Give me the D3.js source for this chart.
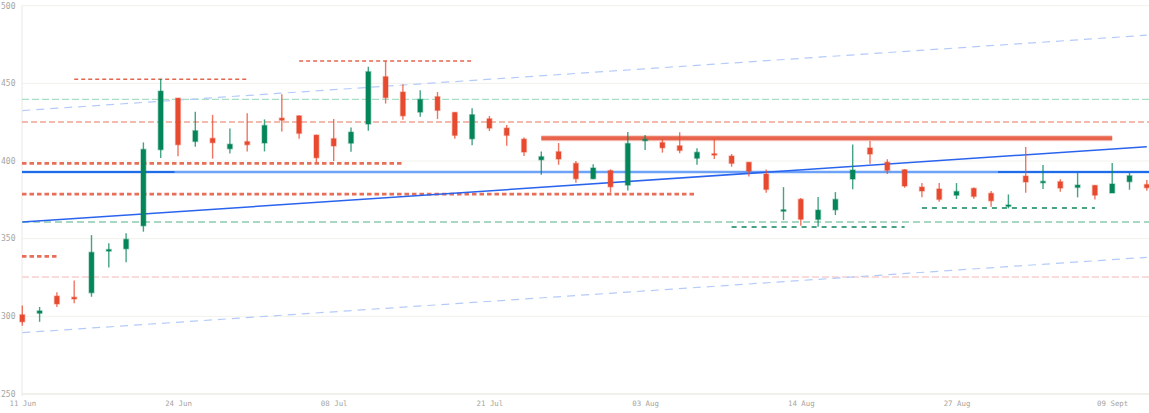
<!DOCTYPE html>
<html><head><meta charset="utf-8">
<script src="https://cdn.jsdelivr.net/npm/d3@7/dist/d3.min.js"></script>
<style>html,body{margin:0;padding:0;background:#fff;}svg{display:block;}</style>
</head><body><svg id="c" width="1149" height="413"></svg>
<script>
// ---- data ----
const opens  = [301,302,313,312.3,315.2,342,343.5,358.3,407.3,440.5,412.6,414.6,407.9,412.5,411.6,427.6,429.1,416.7,414.4,411.5,423.8,454.3,444.4,431.5,441.4,431.3,414.3,427.2,421.2,414.1,400.8,406,398.5,388.6,393.8,384.5,413.1,411.9,409.8,401.8,404.7,403.2,399.2,391.6,368,375.4,362.4,368.6,388.4,408.4,399.2,394.4,383.2,382,378,382.4,379.2,370.8,390.3,386,386.7,383,384.3,379.4,386.7,384.9];
const closes = [296.5,303.5,308,311.2,341.2,343,349.6,407.5,445,410.5,419.5,411.8,410.8,410.5,422.9,426.3,417.8,402.1,409.7,418.6,457.5,440.8,429.1,439.7,432.6,416.5,429.8,421.2,416.5,405.8,402.8,401.3,388.6,395.5,383.4,411.3,414,408.5,406.8,405.6,403.9,398.5,393.5,381.7,368.6,362.5,368.4,375.3,394.2,404.5,394,383.9,380.7,375.3,380.4,377.2,374.4,371.7,386.5,386.9,382.6,384.5,378,385.2,390.5,382.8];
const highs  = [307,306,315.5,323,352.3,347,353.5,412,452.8,440.5,431.8,429.7,421,430.8,426.8,443,429.5,417,427,421.6,460.7,464.4,449.5,445.5,444.4,431.5,433.9,429,423.2,415.2,406.2,411.6,400,398,394.6,418.7,416.7,414,418.6,408.2,414,404.5,399.3,394.6,383.2,376.2,376.8,380,410.7,412.9,401.1,394.8,385.8,385.8,385.8,383,380.7,378.5,409,397.4,388.2,392.3,384.5,398.7,392.5,387.7];
const lows   = [294,296.5,306,308.4,312.6,331.5,334.8,354.5,402,403,409.2,401.5,404.9,406.2,406.2,419,414.3,399,400,406,419.5,437,426.6,428.5,427,414.3,410.1,419.3,409.8,403.2,391.2,397.6,386,388.2,379.6,381,407.1,405.4,405,397.6,401.3,396.3,390,379.6,362,358.4,357.7,365.2,381.8,398.3,391.6,382.8,376.6,373.8,375.5,375.7,370.6,369.5,379.6,382,380.2,376.6,375.3,379.4,381.5,380.8];
const tickIndex  = [0,9,18,27,36,45,54,63];
const tickLabels = ["11 Jun","24 Jun","08 Jul","21 Jul","03 Aug","14 Aug","27 Aug","09 Sept"];
const yTicks = [250,300,350,400,450,500];

// horizontal levels: [value, fromIndex, toIndex, style]
const levelValues = [452.6, 464.4, 439.7, 425.1, 398.5, 378.7, 360.7, 338.6, 325.3, 414.6, 357.5, 369.7, 392.9, 392.9, 392.9];
const levelFrom   = [3, 16, 0, 0, 0, 0, 0, 0, 0, 30, 41, 52, 0, 0, 56.4];
const levelTo     = [13, 26, 66, 66, 22, 39, 66, 2, 66, 63, 51, 62, 66, 8.8, 66];
const levelStyle  = ["redThin","redThin","greenLight","redLight","redThick","redThick","greenMid","redThick","pink","redSolid","greenDark","greenDark","blueLight","blueDark","blueDark"];
// trend lines: [startValue at index 0, endValue at index 65]
const trendStart = [432.5, 289.5, 360.7];
const trendEnd   = [481, 338, 409.2];
const trendStyle = ["blueDash","blueDash","blueSolid"];

const RED = "#e84a2f", GREEN = "#05855a";
const styles = {
  redThin:   {stroke:"#e4553c", w:1.4, dash:"4,3", op:0.9},
  redThick:  {stroke:"#e4553c", w:2.6, dash:"4.5,3", op:0.85},
  redLight:  {stroke:"#f0a593", w:1.5, dash:"6,3", op:1},
  pink:      {stroke:"#f9d0d0", w:1.5, dash:"7,3", op:1},
  greenLight:{stroke:"#a6dec6", w:1.3, dash:"7,3", op:1},
  greenMid:  {stroke:"#8ccab0", w:1.6, dash:"7,4", op:1},
  greenDark: {stroke:"#2a946a", w:2, dash:"5,5", op:0.85},
  redSolid:  {stroke:"#e8634c", w:4, dash:null, op:1},
  blueLight: {stroke:"#6ea2f6", w:2.4, dash:null, op:1},
  blueDark:  {stroke:"#1f6be8", w:2, dash:null, op:1},
  blueDash:  {stroke:"#b4cbf9", w:1.2, dash:"8,6", op:1},
  blueSolid: {stroke:"#2a64ee", w:1.5, dash:null, op:1}
};

// ---- scales ----
const W = 1149, H = 413;
const n = opens.length;
const x = d3.scaleLinear().domain([0, n-1]).range([22.3, 1146.8]);
const y = d3.scaleLinear().domain([250, 500]).range([394, 5.7]);
const svg = d3.select("#c");

// gridlines
svg.append("g").selectAll("line").data(yTicks).join("line")
  .attr("x1", 22).attr("x2", W).attr("y1", d=>y(d)).attr("y2", d=>y(d))
  .attr("stroke", "#f1f1ec").attr("stroke-width", 1);
// axes lines
svg.append("line").attr("x1",22).attr("x2",22).attr("y1",y(500)).attr("y2",396).attr("stroke","#e9e8e1");
svg.append("line").attr("x1",22).attr("x2",W).attr("y1",y(250)).attr("y2",y(250)).attr("stroke","#e9e8e1");

// y labels
svg.append("g").selectAll("text").data(yTicks).join("text")
  .attr("x", 1).attr("y", d=>y(d)).attr("dy","0.35em")
  .attr("font-family","DejaVu Sans Mono, monospace").attr("font-size","8px")
  .attr("fill","#a5a5a0").text(d=>d);
// x labels via axis
const xAxis = d3.axisBottom(x).tickValues(tickIndex).tickFormat((d,i)=>tickLabels[i]).tickSize(0).tickPadding(0);
const gx = svg.append("g").attr("transform","translate(0,402)").call(xAxis);
gx.select(".domain").remove();
gx.selectAll("text").attr("font-family","DejaVu Sans Mono, monospace").attr("font-size","7.4px").attr("fill","#a5a5a0").attr("dy","0.6em");

// levels
const lv = svg.append("g");
levelValues.forEach((v,i)=>{
  const s = styles[levelStyle[i]];
  const x1 = x(levelFrom[i]) - (levelFrom[i]===0 ? 0.3 : 0);
  const x2 = levelTo[i] >= n ? W : x(levelTo[i]);
  if (levelStyle[i]==="redSolid") {
    lv.append("line").attr("x1",x1).attr("x2",x2).attr("y1",y(v)).attr("y2",y(v))
      .attr("stroke","#f3b1a5").attr("stroke-width",6).attr("opacity",0.6);
  }
  lv.append("line").attr("x1",x1).attr("x2",x2).attr("y1",y(v)).attr("y2",y(v))
    .attr("stroke",s.stroke).attr("stroke-width",s.w).attr("stroke-dasharray",s.dash)
    .attr("opacity",s.op);
});
// trend lines
trendStart.forEach((v,i)=>{
  const s = styles[trendStyle[i]];
  lv.append("line").attr("x1",x(0)).attr("x2",x(n-1)).attr("y1",y(v)).attr("y2",y(trendEnd[i]))
    .attr("stroke",s.stroke).attr("stroke-width",s.w).attr("stroke-dasharray",s.dash).attr("opacity",s.op);
});

// candles
const idx = d3.range(n);
const cg = svg.append("g");
const col = i => closes[i] >= opens[i] ? GREEN : RED;
cg.selectAll("line.wick").data(idx).join("line").attr("class","wick")
  .attr("x1", i=>x(i)).attr("x2", i=>x(i))
  .attr("y1", i=>y(highs[i])).attr("y2", i=>y(lows[i]))
  .attr("stroke", col).attr("stroke-width",1.4).attr("stroke-opacity",0.75);
cg.selectAll("rect.body").data(idx).join("rect").attr("class","body")
  .attr("x", i=>x(i)-2.4).attr("width",4.8)
  .attr("y", i=>y(Math.max(opens[i],closes[i])))
  .attr("height", i=>Math.max(1.4, Math.abs(y(opens[i])-y(closes[i]))))
  .attr("fill", col).attr("stroke", col).attr("stroke-opacity",0.35).attr("stroke-width",1.5);
</script></body></html>
